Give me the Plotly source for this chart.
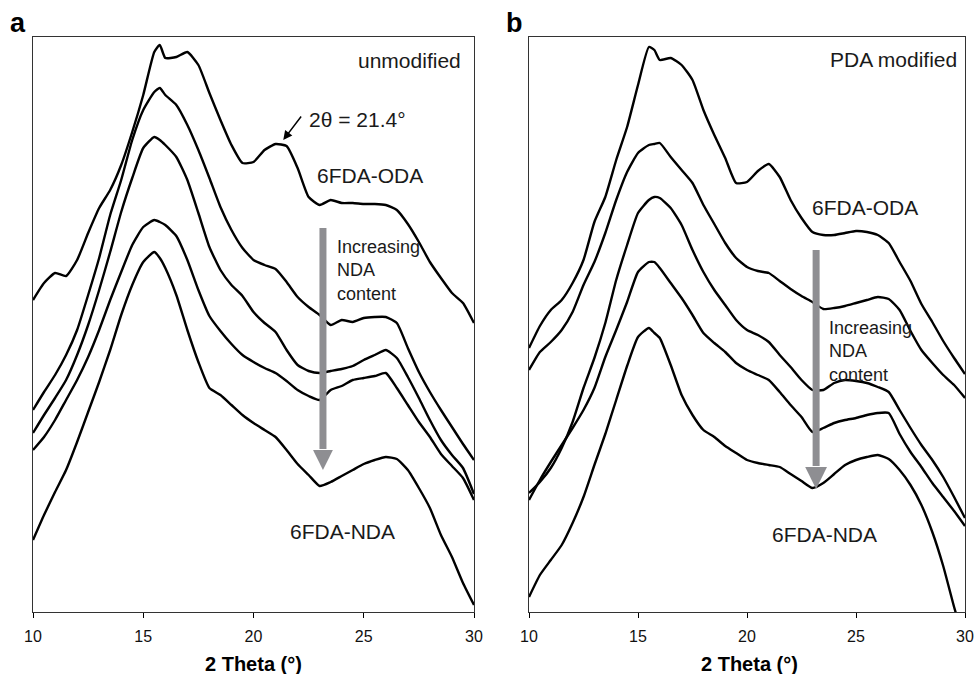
import plotly.graph_objects as go

# 2-theta grid (degrees)
two_theta = [10, 10.5, 11, 11.5, 12, 12.5, 13, 13.5, 14, 14.5, 15, 15.5, 15.75, 16, 16.5, 17, 17.5,
             18, 18.5, 19, 19.5, 20, 20.5, 21, 21.5, 22, 22.5, 23, 23.5, 24, 24.5, 25, 25.5, 26,
             26.5, 27, 27.5, 28, 28.5, 29, 29.5, 30]

# Panel a (unmodified) - stacked intensities, arbitrary units (top to bottom)
a_oda = [312, 329, 339, 336, 352, 379, 404, 422, 447, 480, 517, 560, 567, 554, 555, 560, 547, 519, 492,
         467, 449, 450, 462, 468, 466, 444, 415, 407, 412, 409, 409, 408, 408, 407, 402, 388, 370, 350,
         334, 319, 309, 289]
a_mix1 = [202, 220, 237, 257, 282, 317, 354, 397, 432, 472, 502, 520, 524, 517, 507, 487, 462, 434, 405,
          382, 364, 352, 347, 343, 330, 315, 305, 297, 287, 292, 290, 294, 295, 295, 289, 264, 240, 220,
          202, 185, 168, 152]
a_mix2 = [179, 197, 214, 232, 257, 287, 322, 360, 400, 434, 464, 475, 472, 467, 455, 432, 399, 365, 342,
          327, 316, 300, 289, 280, 262, 247, 241, 239, 241, 243, 246, 252, 257, 262, 254, 235, 214, 192,
          172, 157, 144, 118]
a_mix3 = [162, 175, 192, 212, 232, 255, 282, 312, 340, 367, 385, 392, 390, 387, 376, 352, 322, 296, 281,
          268, 257, 250, 244, 239, 231, 222, 216, 212, 222, 226, 232, 234, 236, 239, 224, 207, 190, 175,
          158, 146, 134, 112]
a_nda = [72, 97, 120, 142, 170, 200, 230, 262, 297, 327, 350, 360, 354, 344, 317, 282, 250, 224, 217,
         207, 197, 189, 182, 175, 162, 148, 137, 126, 130, 136, 142, 148, 152, 155, 153, 142, 124, 104,
         77, 55, 29, 7]

# Panel b (PDA modified)
b_oda = [264, 286, 302, 312, 329, 352, 390, 415, 452, 485, 527, 565, 562, 552, 554, 547, 532, 502, 477,
         454, 429, 430, 441, 448, 435, 412, 394, 380, 377, 377, 379, 381, 380, 377, 369, 350, 331, 308,
         290, 271, 254, 238]
b_mix1 = [242, 260, 270, 282, 300, 327, 350, 379, 412, 440, 459, 467, 468, 469, 455, 442, 429, 407, 388,
          369, 354, 345, 341, 339, 331, 323, 316, 310, 303, 304, 306, 309, 312, 315, 313, 302, 281, 262,
          249, 237, 227, 214]
b_mix2 = [119, 130, 144, 164, 190, 224, 254, 289, 332, 367, 399, 412, 415, 414, 404, 387, 362, 340, 322,
          307, 292, 282, 277, 270, 257, 245, 232, 222, 222, 229, 232, 231, 229, 225, 220, 202, 184, 167,
          152, 135, 115, 94]
b_mix3 = [112, 132, 150, 167, 184, 202, 224, 255, 282, 310, 340, 350, 350, 344, 329, 314, 297, 279, 269,
          260, 249, 242, 237, 232, 220, 207, 195, 180, 184, 189, 192, 194, 197, 199, 199, 178, 160, 145,
          129, 115, 101, 86]
b_nda = [15, 37, 52, 67, 89, 115, 147, 178, 212, 246, 275, 284, 279, 274, 247, 217, 197, 182, 175, 166,
         159, 152, 149, 147, 145, 138, 131, 124, 129, 138, 147, 152, 155, 157, 153, 142, 127, 107, 80,
         46, 5, -33]

panel_a = [a_oda, a_mix1, a_mix2, a_mix3, a_nda]
panel_b = [b_oda, b_mix1, b_mix2, b_mix3, b_nda]

FONT = "Liberation Sans, Arial, sans-serif"
GRAY = "#8e8e92"

fig = go.Figure()
for ys in panel_a:
    fig.add_trace(go.Scatter(x=two_theta, y=ys, mode="lines", xaxis="x", yaxis="y",
                             line=dict(color="black", width=2.4, shape="spline", smoothing=0.5),
                             showlegend=False, hoverinfo="skip"))
for ys in panel_b:
    fig.add_trace(go.Scatter(x=two_theta, y=ys, mode="lines", xaxis="x2", yaxis="y2",
                             line=dict(color="black", width=2.4, shape="spline", smoothing=0.5),
                             showlegend=False, hoverinfo="skip"))

ydom = [1 - 612 / 674, 1 - 37 / 674]
xcommon = dict(range=[10, 30], tickvals=[10, 15, 20, 25, 30], ticks="outside", ticklen=5,
               tickcolor="black", showline=True, mirror=True, linecolor="#333", linewidth=1,
               showgrid=False, zeroline=False, tickfont=dict(family=FONT, size=16, color="#111"),
               automargin=False, ticklabelstandoff=5)
ycommon = dict(range=[0, 575], showticklabels=False, ticks="", showline=True, mirror=True,
               linecolor="#333", linewidth=1, showgrid=False, zeroline=False, automargin=False)

fig.update_layout(
    width=974, height=674,
    margin=dict(l=0, r=0, t=0, b=0),
    paper_bgcolor="white", plot_bgcolor="white",
    xaxis=dict(domain=[33 / 974, 474 / 974], anchor="y", **xcommon),
    yaxis=dict(domain=ydom, anchor="x", **ycommon),
    xaxis2=dict(domain=[529 / 974, 965 / 974], anchor="y2", **xcommon),
    yaxis2=dict(domain=ydom, anchor="x2", **ycommon),
)

# grey "increasing NDA content" arrows
for xr, yr, xc, ytop, ybase, ytip, hw in [("x", "y", 23.15, 384, 162, 142, 0.45),
                                          ("x2", "y2", 23.17, 362, 145, 123, 0.5)]:
    fig.add_shape(type="line", xref=xr, yref=yr, x0=xc, x1=xc, y0=ytop, y1=ybase + 1,
                  line=dict(color=GRAY, width=7))
    fig.add_shape(type="path", xref=xr, yref=yr,
                  path=f"M {xc - hw},{ybase} L {xc + hw},{ybase} L {xc},{ytip} Z",
                  fillcolor=GRAY, line=dict(color=GRAY, width=0))

txt = dict(family=FONT, size=21, color="#1a1a1a")
txt_small = dict(family=FONT, size=18, color="#1a1a1a")
ann = [
    # panel letters
    dict(xref="paper", yref="paper", x=8 / 974, y=1 - 23 / 674, text="<b>a</b>", showarrow=False,
         xanchor="left", yanchor="middle", font=dict(family=FONT, size=27, color="black")),
    dict(xref="paper", yref="paper", x=504 / 974, y=1 - 23 / 674, text="<b>b</b>", showarrow=False,
         xanchor="left", yanchor="middle", font=dict(family=FONT, size=27, color="black")),
    # axis titles
    dict(xref="paper", yref="paper", x=253.5 / 974, y=1 - 664 / 674, text="<b>2 Theta (°)</b>",
         showarrow=False, xanchor="center", yanchor="middle",
         font=dict(family=FONT, size=20, color="black")),
    dict(xref="paper", yref="paper", x=749 / 974, y=1 - 664 / 674, text="<b>2 Theta (°)</b>",
         showarrow=False, xanchor="center", yanchor="middle",
         font=dict(family=FONT, size=20, color="black")),
    # panel a texts
    dict(xref="x", yref="y", x=29.5, y=551, text="unmodified", showarrow=False,
         xanchor="right", yanchor="middle", font=txt),
    dict(xref="x", yref="y", x=22.43, y=492, text="2θ = 21.4°", showarrow=False,
         xanchor="left", yanchor="middle", font=txt),
    dict(xref="x", yref="y", x=21.35, y=472, ax=19, ay=-25, text="", showarrow=True,
         arrowhead=2, arrowsize=1.2, arrowwidth=1.5, arrowcolor="black"),
    dict(xref="x", yref="y", x=22.79, y=436, text="6FDA-ODA", showarrow=False,
         xanchor="left", yanchor="middle", font=txt),
    dict(xref="x", yref="y", x=23.7, y=342, text="Increasing<br>NDA<br>content", showarrow=False,
         xanchor="left", yanchor="middle", align="left", font=txt_small),
    dict(xref="x", yref="y", x=21.56, y=81, text="6FDA-NDA", showarrow=False,
         xanchor="left", yanchor="middle", font=txt),
    # panel b texts
    dict(xref="x2", yref="y2", x=29.72, y=552, text="PDA modified", showarrow=False,
         xanchor="right", yanchor="middle", font=txt),
    dict(xref="x2", yref="y2", x=22.89, y=404, text="6FDA-ODA", showarrow=False,
         xanchor="left", yanchor="middle", font=txt),
    dict(xref="x2", yref="y2", x=23.67, y=261, text="Increasing<br>NDA<br>content", showarrow=False,
         xanchor="left", yanchor="middle", align="left", font=txt_small),
    dict(xref="x2", yref="y2", x=21.06, y=78, text="6FDA-NDA", showarrow=False,
         xanchor="left", yanchor="middle", font=txt),
]
fig.update_layout(annotations=ann)

fig.write_html("out.html")
